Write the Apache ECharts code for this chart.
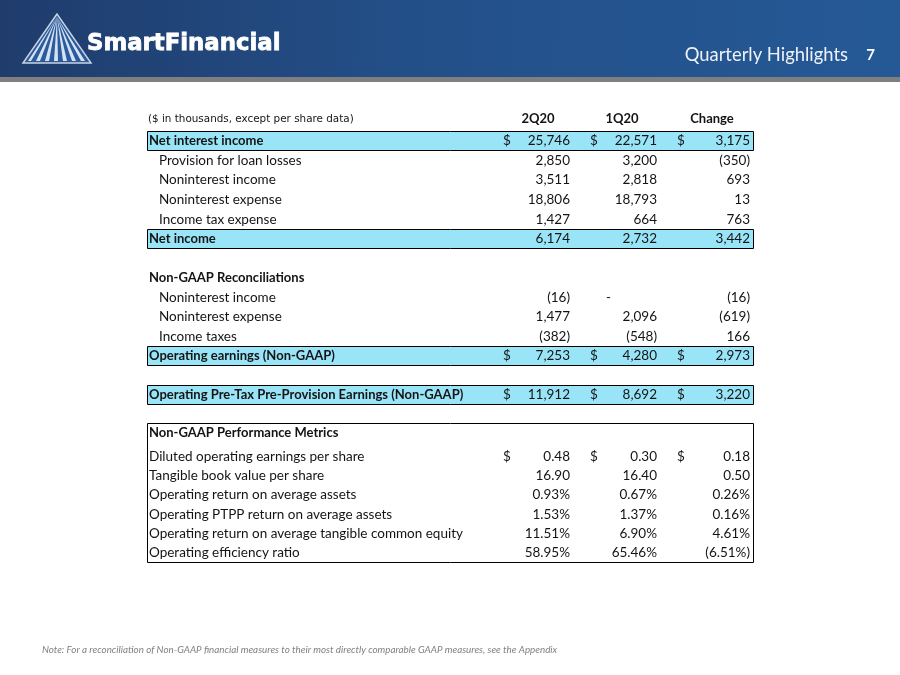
<!DOCTYPE html>
<html><head><meta charset="utf-8">
<script src="https://cdn.jsdelivr.net/npm/echarts@6/dist/echarts.min.js"></script>
<style>html,body{margin:0;padding:0;background:#fff}#c{width:900px;height:675px}</style>
</head><body><div id="c"></div>
<script>
// ---------- data ----------
const columnHeaders = ['2Q20', '1Q20', 'Change'];
const unitNote = '($ in thousands, except per share data)';

const mainLabels = ['Net interest income', 'Provision for loan losses', 'Noninterest income', 'Noninterest expense', 'Income tax expense', 'Net income', '', 'Non-GAAP Reconciliations', 'Noninterest income', 'Noninterest expense', 'Income taxes', 'Operating earnings (Non-GAAP)', '', 'Operating Pre-Tax Pre-Provision Earnings (Non-GAAP)'];
const mainKinds = ['total$', 'item', 'item', 'item', 'item', 'total', 'blank', 'section', 'item', 'item', 'item', 'total$', 'blank', 'total$'];
const main2Q20 = [25746, 2850, 3511, 18806, 1427, 6174, null, null, -16, 1477, -382, 7253, null, 11912];
const main1Q20 = [22571, 3200, 2818, 18793, 664, 2732, null, null, 0, 2096, -548, 4280, null, 8692];
const mainChange = [3175, -350, 693, 13, 763, 3442, null, null, -16, -619, 166, 2973, null, 3220];

const metricLabels = ['Non-GAAP Performance Metrics', 'Diluted operating earnings per share', 'Tangible book value per share', 'Operating return on average assets', 'Operating PTPP return on average assets', 'Operating return on average tangible common equity', 'Operating efficiency ratio'];
const metricKinds = ['section', 'eps$', 'eps', 'pct', 'pct', 'pct', 'pct'];
const metric2Q20 = [null, 0.48, 16.90, 0.93, 1.53, 11.51, 58.95];
const metric1Q20 = [null, 0.30, 16.40, 0.67, 1.37, 6.90, 65.46];
const metricChange = [null, 0.18, 0.50, 0.26, 0.16, 4.61, -6.51];

const noteText = 'Note: For a reconciliation of Non-GAAP financial measures to their most directly comparable GAAP measures, see the Appendix';

// ---------- layout / style ----------
const FONT = 'Lato';
const TABLE_W = 606;
const L = { labelX: 2, indentX: 12, dollarX: [356, 443, 530], numRight: [423, 510, 603], dashOffset: 46, headCenter: [391, 475, 565] };
const HIGHLIGHT = '#9ae4f8';
const TEXT = '#141414';
const FS = 13.5;      // regular
const FSB = 13;       // bold labels
const BOX_PAD_TOP = 4;

function fmt(v, kind) {
  if (v === null || v === undefined) return '';
  const neg = v < 0, a = Math.abs(v);
  let s;
  if (kind.indexOf('pct') === 0) s = a.toFixed(2) + '%';
  else if (kind.indexOf('eps') === 0) s = a.toFixed(2);
  else s = a.toLocaleString('en-US');
  return neg ? '(' + s + ')' : s;
}

function makeRender(labels, kinds, cols, boxAll) {
  return function (params, api) {
    const i = params.dataIndex;
    const kind = kinds[i];
    const c = api.coord([0, i]);
    const y = c[1];
    const pitch = api.size([0, 1])[1];
    const px = v => api.coord([v, i])[0];
    const children = [];
    let ty = y;
    if (boxAll && i === 0) {
      const top = Math.round(y - pitch / 2 - BOX_PAD_TOP) + 0.5;
      children.push({ type: 'rect', shape: { x: Math.round(px(0)) + 0.5, y: top, width: Math.round(px(TABLE_W) - px(0)), height: Math.round(pitch * labels.length + BOX_PAD_TOP) }, style: { fill: '#fff', stroke: '#000', lineWidth: 1 } });
      ty = y - BOX_PAD_TOP;
    }
    if (kind.indexOf('total') === 0) {
      const top = Math.round(y - pitch / 2) + 0.5;
      children.push({ type: 'rect', shape: { x: Math.round(px(0)) + 0.5, y: top, width: Math.round(px(TABLE_W) - px(0)), height: Math.round(pitch) - 1 }, style: { fill: HIGHLIGHT, stroke: '#000', lineWidth: 1 } });
    }
    if (kind !== 'blank') {
      const bold = kind.indexOf('total') === 0 || kind === 'section';
      children.push({ type: 'text', style: { text: labels[i], x: px(kind === 'item' ? L.indentX : L.labelX), y: ty, align: 'left', verticalAlign: 'middle', fill: TEXT, fontFamily: FONT, fontSize: bold ? FSB : FS, fontWeight: bold ? 'bold' : 'normal' } });
    }
    const hasDollar = kind.indexOf('$') >= 0;
    cols.forEach((arr, j) => {
      const v = arr[i];
      if (v === null || v === undefined) return;
      if (hasDollar) children.push({ type: 'text', style: { text: '$', x: px(L.dollarX[j]), y: y, align: 'left', verticalAlign: 'middle', fill: TEXT, fontFamily: FONT, fontSize: FS } });
      const zero = v === 0 && kind.indexOf('eps') < 0 && kind.indexOf('pct') < 0;
      children.push({ type: 'text', style: { text: zero ? '-' : fmt(v, kind), x: px(L.numRight[j] - (zero ? L.dashOffset : 0)), y: y, align: 'right', verticalAlign: 'middle', fill: TEXT, fontFamily: FONT, fontSize: FS } });
    });
    return { type: 'group', children: children };
  };
}

const chart = echarts.init(document.getElementById('c'), null, { renderer: 'canvas' });

// logo rays
const apex = [57, 14];
const rayBase = [[28, 31], [36, 40], [45, 49], [54, 58], [63, 67], [72, 76], [81, 85]];
const logo = [
  { type: 'polygon', shape: { points: [apex, [23, 63], [91, 63]] }, style: { fill: '#2b5b9c', stroke: '#c9d3e0', lineWidth: 1.5 } }
].concat(rayBase.map(b => ({ type: 'polygon', shape: { points: [[apex[0], apex[1] + 3], [b[0], 61], [b[1], 61]] }, style: { fill: '#d6e2f2' } })));

chart.setOption({
  animation: false,
  grid: [
    { left: 147, width: TABLE_W, top: 131.2, height: 273.6, show: false },
    { left: 147, width: TABLE_W, top: 427.4, height: 135.1, show: false }
  ],
  xAxis: [
    { type: 'value', gridIndex: 0, min: 0, max: TABLE_W, show: false },
    { type: 'value', gridIndex: 1, min: 0, max: TABLE_W, show: false }
  ],
  yAxis: [
    { type: 'category', gridIndex: 0, data: mainLabels.map((l, i) => i), inverse: true, show: false },
    { type: 'category', gridIndex: 1, data: metricLabels.map((l, i) => i), inverse: true, show: false }
  ],
  graphic: [
    { type: 'rect', shape: { x: 0, y: 0, width: 900, height: 77 }, style: { fill: new echarts.graphic.LinearGradient(0, 0, 1, 0.3, [{ offset: 0, color: '#1f3c6c' }, { offset: 0.45, color: '#234f88' }, { offset: 1, color: '#255996' }]) } },
    { type: 'rect', shape: { x: 0, y: 77, width: 900, height: 5 }, style: { fill: '#7f7f7f' } },
    { type: 'group', children: logo },
    { type: 'text', style: { text: 'SmartFinancial', x: 87, y: 44, align: 'left', verticalAlign: 'middle', fill: '#ffffff', stroke: '#ffffff', lineWidth: 0.8, fontFamily: 'DejaVu Sans', fontSize: 22.8, fontWeight: 'bold' } },
    { type: 'text', style: { text: 'Quarterly Highlights', x: 848, y: 55, align: 'right', verticalAlign: 'middle', fill: '#eef2f8', fontFamily: FONT, fontSize: 18.4 } },
    { type: 'text', style: { text: '7', x: 875, y: 55, align: 'right', verticalAlign: 'middle', fill: '#ffffff', fontFamily: FONT, fontSize: 15, fontWeight: 'bold' } },
    { type: 'text', style: { text: unitNote, x: 148, y: 119, align: 'left', verticalAlign: 'middle', fill: TEXT, fontFamily: 'DejaVu Sans', fontSize: 10.4 } },
    { type: 'text', style: { text: columnHeaders[0], x: 147 + L.headCenter[0], y: 119, align: 'center', verticalAlign: 'middle', fill: TEXT, fontFamily: FONT, fontSize: FSB, fontWeight: 'bold' } },
    { type: 'text', style: { text: columnHeaders[1], x: 147 + L.headCenter[1], y: 119, align: 'center', verticalAlign: 'middle', fill: TEXT, fontFamily: FONT, fontSize: FSB, fontWeight: 'bold' } },
    { type: 'text', style: { text: columnHeaders[2], x: 147 + L.headCenter[2], y: 119, align: 'center', verticalAlign: 'middle', fill: TEXT, fontFamily: FONT, fontSize: FSB, fontWeight: 'bold' } },
    { type: 'text', style: { text: noteText, x: 42, y: 650, align: 'left', verticalAlign: 'middle', fill: '#808080', fontFamily: FONT, fontSize: 9.8, fontStyle: 'italic' } }
  ],
  series: [
    { type: 'custom', xAxisIndex: 0, yAxisIndex: 0, data: mainLabels.map((l, i) => [0, i]), encode: { x: 0, y: 1 }, clip: false, renderItem: makeRender(mainLabels, mainKinds, [main2Q20, main1Q20, mainChange], false) },
    { type: 'custom', xAxisIndex: 1, yAxisIndex: 1, data: metricLabels.map((l, i) => [0, i]), encode: { x: 0, y: 1 }, clip: false, renderItem: makeRender(metricLabels, metricKinds, [metric2Q20, metric1Q20, metricChange], true) }
  ]
});
</script>
</body></html>
